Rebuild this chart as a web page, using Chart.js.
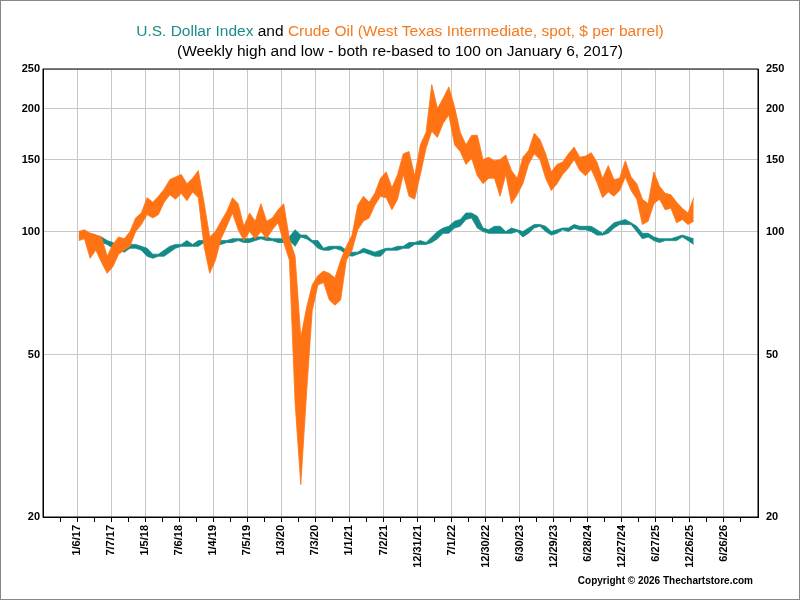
<!DOCTYPE html>
<html lang="en">
<head>
<meta charset="UTF-8">
<title>Dollar and Crude Oil</title>
<script src="https://cdn.jsdelivr.net/npm/chart.js"></script>
<style>
  body { margin: 0; background: #fff; font-family: "Liberation Sans", Arial, sans-serif; }
  #wrap { position: relative; width: 798px; height: 598px; border: 1px solid #888; }
  #title { position: absolute; top: 20px; left: 0; width: 798px; text-align: center; font-size: 15.5px; line-height: 20px; }
  #copy { position: absolute; right: 46px; top: 574px; font-size: 10px; font-weight: bold; }
  canvas { position: absolute; left: 0; top: 0; }
</style>
</head>
<body>
<div id="wrap">
  <canvas id="myChart" width="798" height="598"></canvas>
  <div id="title"><span style="color:#1b8c8c">U.S. Dollar Index</span> and <span style="color:#f47a20">Crude Oil (West Texas Intermediate, spot, $ per barrel)</span><br>(Weekly high and low - both re-based to 100 on January 6, 2017)</div>
  <div id="copy">Copyright © 2026 Thechartstore.com</div>
</div>
<script>
// monthly high / low, Jan 2017 .. Jan 2026, re-based to 100
const oilHigh = [100,101,99,98,97,87,93,97,96,100,108,111,
  121,118,122,127,134,136,138,131,135,141,118,97,
  100,106,112,121,117,103,111,106,117,106,108,113,
  117,96,87,55,65,74,78,80,79,77,85,92,
  98,116,122,118,124,135,140,128,138,155,157,137,
  163,175,229,200,212,226,202,175,163,172,172,150,
  152,149,150,154,141,135,152,158,174,168,155,140,
  146,148,155,161,152,153,156,148,135,145,134,135,
  149,136,131,120,117,140,129,124,123,118,114,111,
  121];
const oilLow = [95,96,86,90,84,79,82,88,90,92,100,104,
  110,108,110,118,123,120,124,119,125,121,92,79,
  85,96,103,111,101,95,100,96,100,96,101,105,
  94,85,38,24,40,64,74,75,68,66,68,85,
  90,101,106,108,116,122,121,113,120,138,122,120,
  138,160,176,170,184,193,163,157,146,151,137,131,
  135,135,122,138,117,123,131,146,155,150,135,126,
  131,138,143,150,141,137,142,132,121,125,122,126,
  136,126,120,104,106,117,120,113,114,105,107,104,
  106];
const usdHigh = [100,99,99,98,97,95,94,92,92,93,93,92,
  91,88,88,90,92,93,93,95,93,95,95,95,
  94,95,95,96,96,96,96,97,97,97,96,96,
  96,97,101,98,98,95,95,91,92,92,92,90,
  89,89,91,90,89,90,91,91,92,92,94,94,
  95,94,97,100,102,103,106,107,111,111,109,102,
  101,103,103,100,102,101,100,102,104,104,103,100,
  101,102,102,104,103,103,103,101,99,102,105,106,
  107,105,103,99,99,97,96,96,96,97,98,97,
  96];
const usdLow = [97,97,96,96,94,93,91,90,89,91,91,90,
  87,86,87,87,89,91,92,92,92,92,94,94,
  93,93,94,94,95,94,94,95,96,95,95,94,
  94,95,92,97,96,94,91,90,90,91,90,88,
  87,88,89,88,87,87,90,90,90,91,91,93,
  93,93,94,96,99,99,102,103,107,108,102,100,
  99,99,99,99,99,100,97,99,102,103,100,98,
  99,101,100,102,101,101,100,98,98,99,102,104,
  104,104,100,96,97,95,94,95,95,95,97,95,
  93];
const yTicks = [20, 50, 100, 150, 200, 250];
const xMin = -26, xMax = 520, lastTickWeek = 494;

function monthWeek(m) { return (m * 30.4375 + 9) / 7; }
function pts(arr) { return arr.map((v, i) => ({ x: monthWeek(i), y: v })); }
function weekLabel(w) {
  const d = new Date(2017, 0, 6 + w * 7);
  return (d.getMonth() + 1) + '/' + d.getDate() + '/' + String(d.getFullYear()).slice(2);
}

const teal = '#138a88', orange = '#ff7314';
const line = (label, data, color, fill, width) => ({
  label: label, data: pts(data), borderColor: color, backgroundColor: color,
  borderWidth: width, pointRadius: 0, tension: 0, fill: fill, yAxisID: 'y'
});

const frame = {
  id: 'frame',
  afterDraw(chart) {
    const a = chart.chartArea, c = chart.ctx;
    c.save(); c.strokeStyle = '#000'; c.lineWidth = 1;
    c.strokeRect(a.left, a.top, a.right - a.left, a.bottom - a.top);
    c.restore();
  }
};

const font = { family: '"Liberation Sans", Arial, sans-serif', size: 11, weight: 'bold' };
new Chart(document.getElementById('myChart'), {
  type: 'line',
  data: { datasets: [
    line('Oil high', oilHigh, orange, false, 0.8),
    line('Oil low', oilLow, orange, '-1', 0.8),
    line('USD high', usdHigh, teal, false, 0.8),
    line('USD low', usdLow, teal, '-1', 0.8)
  ] },
  options: {
    responsive: false, animation: false,
    layout: { padding: { top: 68 } },
    plugins: { legend: { display: false }, tooltip: { enabled: false } },
    scales: {
      x: {
        type: 'linear', min: xMin, max: xMax,
        afterBuildTicks: s => { const t = []; for (let w = -13; w <= 507; w += 13) t.push({ value: w }); s.ticks = t; },
        afterFit: s => { s.height = 82; },
        ticks: { color: '#000', font: font, minRotation: 90, maxRotation: 90, autoSkip: false,
          callback: v => (v % 26 === 0 && v >= 0 && v <= lastTickWeek) ? weekLabel(v) : '' },
        grid: { tickLength: 5, tickColor: '#000',
          color: c => (c.tick && c.tick.value % 26 === 0 && c.tick.value >= 0 && c.tick.value <= lastTickWeek) ? '#c8c8c8' : 'rgba(0,0,0,0)' },
        border: { color: '#000' }
      },
      y: {
        type: 'logarithmic', position: 'left', min: 20, max: 250,
        afterBuildTicks: s => { s.ticks = yTicks.map(v => ({ value: v })); },
        afterFit: s => { s.width = 42; },
        ticks: { color: '#000', font: font, callback: v => v },
        grid: { color: '#c8c8c8', drawTicks: false },
        border: { color: '#000' }
      },
      y2: {
        type: 'logarithmic', position: 'right', min: 20, max: 250,
        afterBuildTicks: s => { s.ticks = yTicks.map(v => ({ value: v })); },
        afterFit: s => { s.width = 41; },
        ticks: { color: '#000', font: font, padding: 8, callback: v => v },
        grid: { display: false, drawTicks: false },
        border: { color: '#000' }
      }
    }
  },
  plugins: [frame]
});
</script>
</body>
</html>
